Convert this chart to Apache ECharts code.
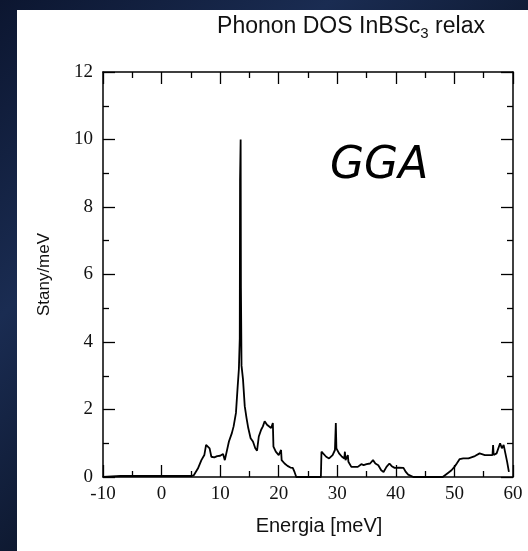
<!DOCTYPE html>
<html>
<head>
<meta charset="utf-8">
<script src="https://cdn.jsdelivr.net/npm/echarts@6/dist/echarts.min.js"></script>
<style>
html,body{margin:0;padding:0;background:#0a1124;}
#chart{width:528px;height:551px;}
</style>
</head>
<body>
<div id="chart"></div>
<script>
// Energy (meV) and phonon DOS (states/meV)
const energy = [-10,-8.5,-7,5,5.5,6.2,6.8,7.3,7.6,7.9,8.2,8.5,9,9.5,10,10.5,10.8,11,11.5,12,12.3,12.7,13.0,13.2,13.35,13.4,13.5,13.55,13.65,13.9,14.2,14.5,14.8,15.2,15.6,16,16.3,16.6,17,17.3,17.6,18,18.3,18.7,19,19.1,19.5,20,20.3,20.4,20.5,21,21.5,22,22.4,22.7,23,27.2,27.3,27.6,28.1,28.6,29.2,29.6,29.75,29.85,30.3,30.8,31.2,31.3,31.4,31.7,31.8,31.9,32.4,33.5,34.1,34.5,35,35.6,36.1,36.5,37,37.5,37.9,38.4,38.9,39.3,39.8,40.5,41.3,41.7,42.1,43,48,48.3,48.9,49.5,50,50.4,50.9,51.5,52.4,53.5,54.3,55.2,56.5,56.6,56.7,57.2,57.8,58.1,58.4,58.7,59,59.3];
const dos = [0,0.02,0.03,0.03,0.05,0.25,0.5,0.65,0.95,1.0,0.85,0.6,0.58,0.62,0.63,0.68,0.5,0.55,1.05,1.3,1.5,1.9,2.7,3.2,4.1,8.8,10.0,5.6,3.3,2.9,2.1,1.75,1.45,1.15,1.05,0.85,0.78,1.2,1.4,1.5,1.65,1.55,1.5,1.45,1.6,0.9,0.75,0.65,0.6,0.8,0.5,0.4,0.33,0.28,0.27,0.15,0,0,0.75,0.8,0.6,0.55,0.65,0.8,1.6,0.85,0.7,0.6,0.55,0.75,0.5,0.48,0.65,0.45,0.3,0.3,0.38,0.35,0.38,0.4,0.5,0.4,0.35,0.2,0.15,0.3,0.4,0.32,0.27,0.28,0.27,0.15,0.07,0,0,0.05,0.12,0.2,0.3,0.4,0.53,0.55,0.55,0.62,0.7,0.65,0.65,0.95,0.65,0.7,1.0,0.85,0.95,0.7,0.45,0.15];

const xMin = -10, xMax = 60, xStep = 10;
const yMin = 0, yMax = 12, yStep = 2;

const titleText = 'Phonon DOS InBSc{sub|3} relax';
const xName = 'Energia [meV]';
const yName = 'Stany/meV';
const annotation = 'GGA';

const seriesData = energy.map((e, i) => [e, dos[i]]);

const chart = echarts.init(document.getElementById('chart'), null, {renderer: 'canvas'});

const serif = '"Liberation Serif", "DejaVu Serif", serif';
const sans = '"Liberation Sans", Arial, sans-serif';

const baseAxis = {
  axisLine: {show: true, onZero: false, lineStyle: {color: '#000', width: 1.5}},
  axisTick: {show: true, inside: true, length: 12, lineStyle: {color: '#000', width: 1.3}},
  minorTick: {show: true, splitNumber: 2, length: 6, lineStyle: {color: '#000', width: 1.3}},
  splitLine: {show: false},
  minorSplitLine: {show: false}
};

chart.setOption({
  animation: false,
  backgroundColor: 'transparent',
  graphic: [
    {type: 'rect', z: -10, silent: true, shape: {x: 0, y: 0, width: 528, height: 551},
     style: {fill: new echarts.graphic.LinearGradient(0, 0, 1, 1, [
       {offset: 0, color: '#0c1630'}, {offset: 0.3, color: '#1a2c52'},
       {offset: 0.6, color: '#0b1428'}, {offset: 1, color: '#050a18'}])}},
    {type: 'rect', z: -9, silent: true, shape: {x: 17, y: 10, width: 511, height: 541},
     style: {fill: '#ffffff'}},
    {type: 'text', z: 10, left: 330, top: 145,
     style: {text: annotation, font: 'italic 44px "DejaVu Sans", sans-serif', fill: '#000'}}
  ],
  title: {
    text: titleText,
    left: 346, top: 8, textAlign: 'center',
    textStyle: {fontFamily: sans, fontSize: 23, fontWeight: 'normal', color: '#111',
      rich: {sub: {fontFamily: sans, fontSize: 15, verticalAlign: 'bottom', padding: [13, 0, 0, 0], color: '#111'}}}
  },
  grid: {left: 103, right: 15, top: 72, bottom: 74, containLabel: false},
  xAxis: [
    Object.assign({}, baseAxis, {
      type: 'value', min: xMin, max: xMax, interval: xStep, position: 'bottom',
      name: xName, nameLocation: 'middle', nameGap: 39,
      nameTextStyle: {fontFamily: sans, fontSize: 20, color: '#111', padding: [0, 0, 0, 22]},
      axisLabel: {fontFamily: serif, fontSize: 19, color: '#111', margin: 8}
    }),
    Object.assign({}, baseAxis, {
      type: 'value', min: xMin, max: xMax, interval: xStep, position: 'top',
      axisLabel: {show: false}
    })
  ],
  yAxis: [
    Object.assign({}, baseAxis, {
      type: 'value', min: yMin, max: yMax, interval: yStep, position: 'left',
      name: yName, nameLocation: 'middle', nameGap: 50,
      nameTextStyle: {fontFamily: sans, fontSize: 17, color: '#111'},
      axisLabel: {fontFamily: serif, fontSize: 19, color: '#111', margin: 10}
    }),
    Object.assign({}, baseAxis, {
      type: 'value', min: yMin, max: yMax, interval: yStep, position: 'right',
      axisLabel: {show: false}
    })
  ],
  series: [{
    type: 'line', xAxisIndex: 0, yAxisIndex: 0,
    data: seriesData, showSymbol: false, smooth: false,
    lineStyle: {color: '#000', width: 1.8}
  }]
});
</script>
</body>
</html>
